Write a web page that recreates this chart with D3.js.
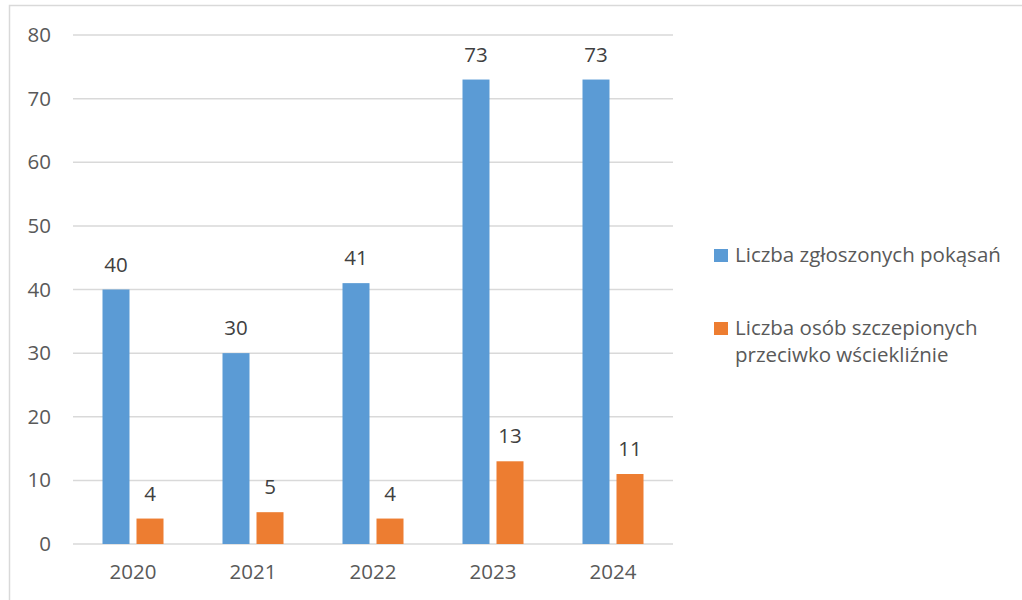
<!DOCTYPE html>
<html>
<head>
<meta charset="utf-8">
<script src="https://d3js.org/d3.v7.min.js"></script>
<style>
  body { margin: 0; background: #fff; }
  svg text { font-family: "Open Sans", Calibri, sans-serif; }
</style>
</head>
<body>
<svg id="chart"></svg>
<script>
// data
var years = ["2020", "2021", "2022", "2023", "2024"];
var bites = [40, 30, 41, 73, 73];
var vaccinated = [4, 5, 4, 13, 11];
var seriesNames = ["Liczba zgłoszonych pokąsań", "Liczba osób szczepionych przeciwko wściekliźnie"];
var yTicks = [0, 10, 20, 30, 40, 50, 60, 70, 80];

var colors = ["#5B9BD5", "#ED7D31"];

function drawChart() {
  var svg = d3.select("#chart").attr("width", 1022).attr("height", 600);

  // outer chart border (cut off at right / bottom)
  svg.append("rect")
    .attr("x", 9.5).attr("y", 5.5)
    .attr("width", 1030).attr("height", 610)
    .attr("fill", "none")
    .attr("stroke", "#D9D9D9")
    .attr("stroke-width", 1.5);

  var plotLeft = 73, plotRight = 673, plotTop = 35, plotBottom = 544;

  var x = d3.scaleBand().domain(years).range([plotLeft, plotRight]);
  var y = d3.scaleLinear().domain([0, 80]).range([plotBottom, plotTop]);

  // gridlines
  svg.append("g")
    .selectAll("line")
    .data(yTicks)
    .enter()
    .append("line")
    .attr("x1", plotLeft).attr("x2", plotRight)
    .attr("y1", function (d) { return y(d); })
    .attr("y2", function (d) { return y(d); })
    .attr("stroke", "#D9D9D9")
    .attr("stroke-width", 1.5);

  // y axis labels
  var yAxis = svg.append("g")
    .attr("transform", "translate(" + plotLeft + ",0)")
    .call(d3.axisLeft(y).tickValues(yTicks).tickSize(0).tickPadding(22));
  yAxis.select(".domain").remove();
  yAxis.selectAll("text")
    .attr("fill", "#595959")
    .style("font-size", "20.5px")
    .style("font-family", "'Open Sans', sans-serif");

  // x axis labels
  var xAxis = svg.append("g")
    .attr("transform", "translate(0," + plotBottom + ")")
    .call(d3.axisBottom(x).tickSize(0).tickPadding(20));
  xAxis.select(".domain").remove();
  xAxis.selectAll("text")
    .attr("fill", "#595959")
    .style("font-size", "20.5px")
    .style("font-family", "'Open Sans', sans-serif");

  var barW = 27, gap = 7;
  var series = [bites, vaccinated];

  series.forEach(function (vals, s) {
    var offset = s === 0 ? -(gap / 2 + barW) : gap / 2;
    var g = svg.append("g");
    g.selectAll("rect")
      .data(vals)
      .enter()
      .append("rect")
      .attr("x", function (d, i) { return x(years[i]) + x.bandwidth() / 2 + offset; })
      .attr("y", function (d) { return y(d); })
      .attr("width", barW)
      .attr("height", function (d) { return plotBottom - y(d); })
      .attr("fill", colors[s]);
    g.selectAll("text")
      .data(vals)
      .enter()
      .append("text")
      .attr("x", function (d, i) { return x(years[i]) + x.bandwidth() / 2 + offset + barW / 2; })
      .attr("y", function (d) { return y(d) - 18; })
      .attr("text-anchor", "middle")
      .attr("fill", "#404040")
      .style("font-size", "20.5px")
      .text(function (d) { return d; });
  });

  // legend
  var legend = [
    { lines: ["Liczba zgłoszonych pokąsań"], y: 262 },
    { lines: ["Liczba osób szczepionych", "przeciwko wściekliźnie"], y: 335 }
  ];
  legend.forEach(function (l, i) {
    svg.append("rect")
      .attr("x", 714).attr("y", l.y - 13)
      .attr("width", 14).attr("height", 13)
      .attr("fill", colors[i]);
    var t = svg.append("text")
      .attr("x", 735).attr("y", l.y)
      .attr("fill", "#595959")
      .style("font-size", "20.5px");
    l.lines.forEach(function (line, j) {
      t.append("tspan").attr("x", 735).attr("dy", j === 0 ? 0 : 27).text(line);
    });
  });
}

drawChart();
</script>
</body>
</html>
